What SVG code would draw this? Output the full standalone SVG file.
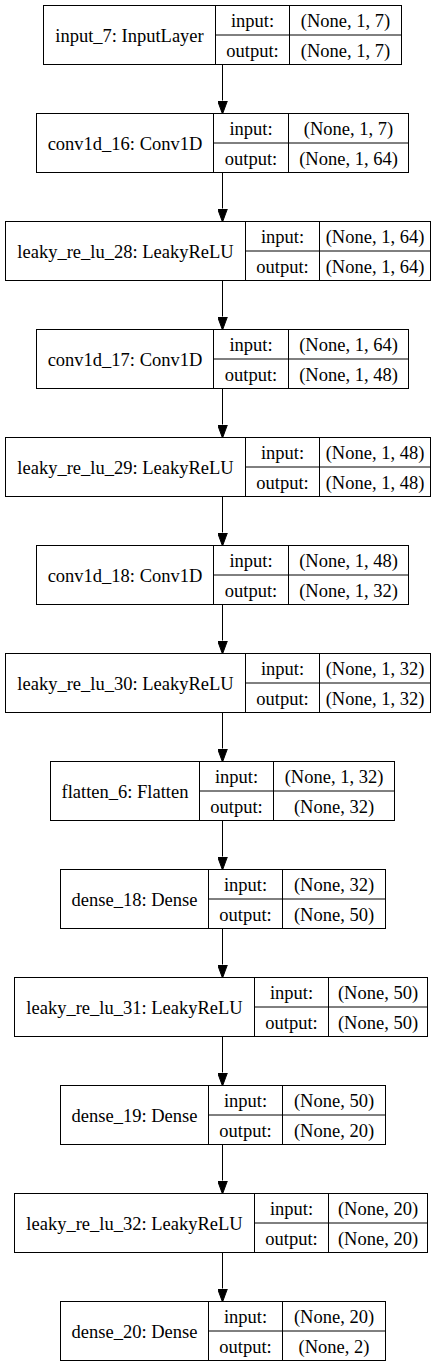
<svg xmlns="http://www.w3.org/2000/svg" width="445" height="1367" viewBox="0 0 445 1367">
<style>
.b{fill:#fff;stroke:#000;stroke-width:1}
.l{stroke:#000;stroke-width:1}
text{font-family:"Liberation Serif","Times New Roman",serif;font-size:18.5px;fill:#000;text-anchor:middle}
.e{stroke:#000;stroke-width:1;fill:none;marker-end:url(#ah)}
</style>
<defs>
<marker id="ah" markerUnits="userSpaceOnUse" viewBox="0 -5 13.5 10" refX="0" refY="0" markerWidth="13.5" markerHeight="10" orient="auto">
<path d="M0,-5 L13.5,0 L0,5 z" fill="#000" stroke="#000" stroke-width="1"/>
</marker>
</defs>
<rect width="445" height="1367" fill="#fff"/>
<g id="edges">
<line class="e" x1="222.5" y1="64.5" x2="222.5" y2="100.5"/>
<line class="e" x1="222.5" y1="172.5" x2="222.5" y2="208.5"/>
<line class="e" x1="222.5" y1="280.5" x2="222.5" y2="316.5"/>
<line class="e" x1="222.5" y1="388.5" x2="222.5" y2="424.5"/>
<line class="e" x1="222.5" y1="496.5" x2="222.5" y2="532.5"/>
<line class="e" x1="222.5" y1="604.5" x2="222.5" y2="640.5"/>
<line class="e" x1="222.5" y1="712.5" x2="222.5" y2="748.5"/>
<line class="e" x1="222.5" y1="820.5" x2="222.5" y2="856.5"/>
<line class="e" x1="222.5" y1="928.5" x2="222.5" y2="964.5"/>
<line class="e" x1="222.5" y1="1036.5" x2="222.5" y2="1072.5"/>
<line class="e" x1="222.5" y1="1144.5" x2="222.5" y2="1180.5"/>
<line class="e" x1="222.5" y1="1252.5" x2="222.5" y2="1288.5"/>
</g>
<g id="input_7">
<rect class="b" x="43.5" y="5.5" width="358" height="59"/>
<line class="l" x1="215.5" y1="5.5" x2="215.5" y2="64.5"/><line class="l" x1="289.5" y1="5.5" x2="289.5" y2="64.5"/><line class="l" x1="215.5" y1="35" x2="401.5" y2="35"/>
<text x="129.5" y="41.5">input_7: InputLayer</text>
<text x="252.5" y="27">input:</text><text x="345.5" y="27">(None, 1, 7)</text>
<text x="252.5" y="56.5">output:</text><text x="345.5" y="56.5">(None, 1, 7)</text>
</g>
<g id="conv1d_16">
<rect class="b" x="36.5" y="113.5" width="372" height="59"/>
<line class="l" x1="213.5" y1="113.5" x2="213.5" y2="172.5"/><line class="l" x1="288.5" y1="113.5" x2="288.5" y2="172.5"/><line class="l" x1="213.5" y1="143" x2="408.5" y2="143"/>
<text x="125" y="149.5">conv1d_16: Conv1D</text>
<text x="251" y="135">input:</text><text x="348.5" y="135">(None, 1, 7)</text>
<text x="251" y="164.5">output:</text><text x="348.5" y="164.5">(None, 1, 64)</text>
</g>
<g id="leaky_re_lu_28">
<rect class="b" x="5.5" y="221.5" width="425" height="59"/>
<line class="l" x1="245.5" y1="221.5" x2="245.5" y2="280.5"/><line class="l" x1="319.5" y1="221.5" x2="319.5" y2="280.5"/><line class="l" x1="245.5" y1="251" x2="430.5" y2="251"/>
<text x="125.5" y="257.5">leaky_re_lu_28: LeakyReLU</text>
<text x="282.5" y="243">input:</text><text x="375" y="243">(None, 1, 64)</text>
<text x="282.5" y="272.5">output:</text><text x="375" y="272.5">(None, 1, 64)</text>
</g>
<g id="conv1d_17">
<rect class="b" x="36.5" y="329.5" width="372" height="59"/>
<line class="l" x1="213.5" y1="329.5" x2="213.5" y2="388.5"/><line class="l" x1="288.5" y1="329.5" x2="288.5" y2="388.5"/><line class="l" x1="213.5" y1="359" x2="408.5" y2="359"/>
<text x="125" y="365.5">conv1d_17: Conv1D</text>
<text x="251" y="351">input:</text><text x="348.5" y="351">(None, 1, 64)</text>
<text x="251" y="380.5">output:</text><text x="348.5" y="380.5">(None, 1, 48)</text>
</g>
<g id="leaky_re_lu_29">
<rect class="b" x="5.5" y="437.5" width="425" height="59"/>
<line class="l" x1="245.5" y1="437.5" x2="245.5" y2="496.5"/><line class="l" x1="319.5" y1="437.5" x2="319.5" y2="496.5"/><line class="l" x1="245.5" y1="467" x2="430.5" y2="467"/>
<text x="125.5" y="473.5">leaky_re_lu_29: LeakyReLU</text>
<text x="282.5" y="459">input:</text><text x="375" y="459">(None, 1, 48)</text>
<text x="282.5" y="488.5">output:</text><text x="375" y="488.5">(None, 1, 48)</text>
</g>
<g id="conv1d_18">
<rect class="b" x="36.5" y="545.5" width="372" height="59"/>
<line class="l" x1="213.5" y1="545.5" x2="213.5" y2="604.5"/><line class="l" x1="288.5" y1="545.5" x2="288.5" y2="604.5"/><line class="l" x1="213.5" y1="575" x2="408.5" y2="575"/>
<text x="125" y="581.5">conv1d_18: Conv1D</text>
<text x="251" y="567">input:</text><text x="348.5" y="567">(None, 1, 48)</text>
<text x="251" y="596.5">output:</text><text x="348.5" y="596.5">(None, 1, 32)</text>
</g>
<g id="leaky_re_lu_30">
<rect class="b" x="5.5" y="653.5" width="425" height="59"/>
<line class="l" x1="245.5" y1="653.5" x2="245.5" y2="712.5"/><line class="l" x1="319.5" y1="653.5" x2="319.5" y2="712.5"/><line class="l" x1="245.5" y1="683" x2="430.5" y2="683"/>
<text x="125.5" y="689.5">leaky_re_lu_30: LeakyReLU</text>
<text x="282.5" y="675">input:</text><text x="375" y="675">(None, 1, 32)</text>
<text x="282.5" y="704.5">output:</text><text x="375" y="704.5">(None, 1, 32)</text>
</g>
<g id="flatten_6">
<rect class="b" x="50.5" y="761.5" width="344" height="59"/>
<line class="l" x1="199.5" y1="761.5" x2="199.5" y2="820.5"/><line class="l" x1="273.5" y1="761.5" x2="273.5" y2="820.5"/><line class="l" x1="199.5" y1="791" x2="394.5" y2="791"/>
<text x="125" y="797.5">flatten_6: Flatten</text>
<text x="236.5" y="783">input:</text><text x="334" y="783">(None, 1, 32)</text>
<text x="236.5" y="812.5">output:</text><text x="334" y="812.5">(None, 32)</text>
</g>
<g id="dense_18">
<rect class="b" x="60.5" y="869.5" width="325" height="59"/>
<line class="l" x1="208.5" y1="869.5" x2="208.5" y2="928.5"/><line class="l" x1="282.5" y1="869.5" x2="282.5" y2="928.5"/><line class="l" x1="208.5" y1="899" x2="385.5" y2="899"/>
<text x="134.5" y="905.5">dense_18: Dense</text>
<text x="245.5" y="891">input:</text><text x="334" y="891">(None, 32)</text>
<text x="245.5" y="920.5">output:</text><text x="334" y="920.5">(None, 50)</text>
</g>
<g id="leaky_re_lu_31">
<rect class="b" x="14.5" y="977.5" width="413" height="59"/>
<line class="l" x1="254.5" y1="977.5" x2="254.5" y2="1036.5"/><line class="l" x1="328.5" y1="977.5" x2="328.5" y2="1036.5"/><line class="l" x1="254.5" y1="1007" x2="427.5" y2="1007"/>
<text x="134.5" y="1013.5">leaky_re_lu_31: LeakyReLU</text>
<text x="291.5" y="999">input:</text><text x="378" y="999">(None, 50)</text>
<text x="291.5" y="1028.5">output:</text><text x="378" y="1028.5">(None, 50)</text>
</g>
<g id="dense_19">
<rect class="b" x="60.5" y="1085.5" width="325" height="59"/>
<line class="l" x1="208.5" y1="1085.5" x2="208.5" y2="1144.5"/><line class="l" x1="282.5" y1="1085.5" x2="282.5" y2="1144.5"/><line class="l" x1="208.5" y1="1115" x2="385.5" y2="1115"/>
<text x="134.5" y="1121.5">dense_19: Dense</text>
<text x="245.5" y="1107">input:</text><text x="334" y="1107">(None, 50)</text>
<text x="245.5" y="1136.5">output:</text><text x="334" y="1136.5">(None, 20)</text>
</g>
<g id="leaky_re_lu_32">
<rect class="b" x="14.5" y="1193.5" width="413" height="59"/>
<line class="l" x1="254.5" y1="1193.5" x2="254.5" y2="1252.5"/><line class="l" x1="328.5" y1="1193.5" x2="328.5" y2="1252.5"/><line class="l" x1="254.5" y1="1223" x2="427.5" y2="1223"/>
<text x="134.5" y="1229.5">leaky_re_lu_32: LeakyReLU</text>
<text x="291.5" y="1215">input:</text><text x="378" y="1215">(None, 20)</text>
<text x="291.5" y="1244.5">output:</text><text x="378" y="1244.5">(None, 20)</text>
</g>
<g id="dense_20">
<rect class="b" x="60.5" y="1301.5" width="325" height="59"/>
<line class="l" x1="208.5" y1="1301.5" x2="208.5" y2="1360.5"/><line class="l" x1="282.5" y1="1301.5" x2="282.5" y2="1360.5"/><line class="l" x1="208.5" y1="1331" x2="385.5" y2="1331"/>
<text x="134.5" y="1337.5">dense_20: Dense</text>
<text x="245.5" y="1323">input:</text><text x="334" y="1323">(None, 20)</text>
<text x="245.5" y="1352.5">output:</text><text x="334" y="1352.5">(None, 2)</text>
</g>
</svg>
